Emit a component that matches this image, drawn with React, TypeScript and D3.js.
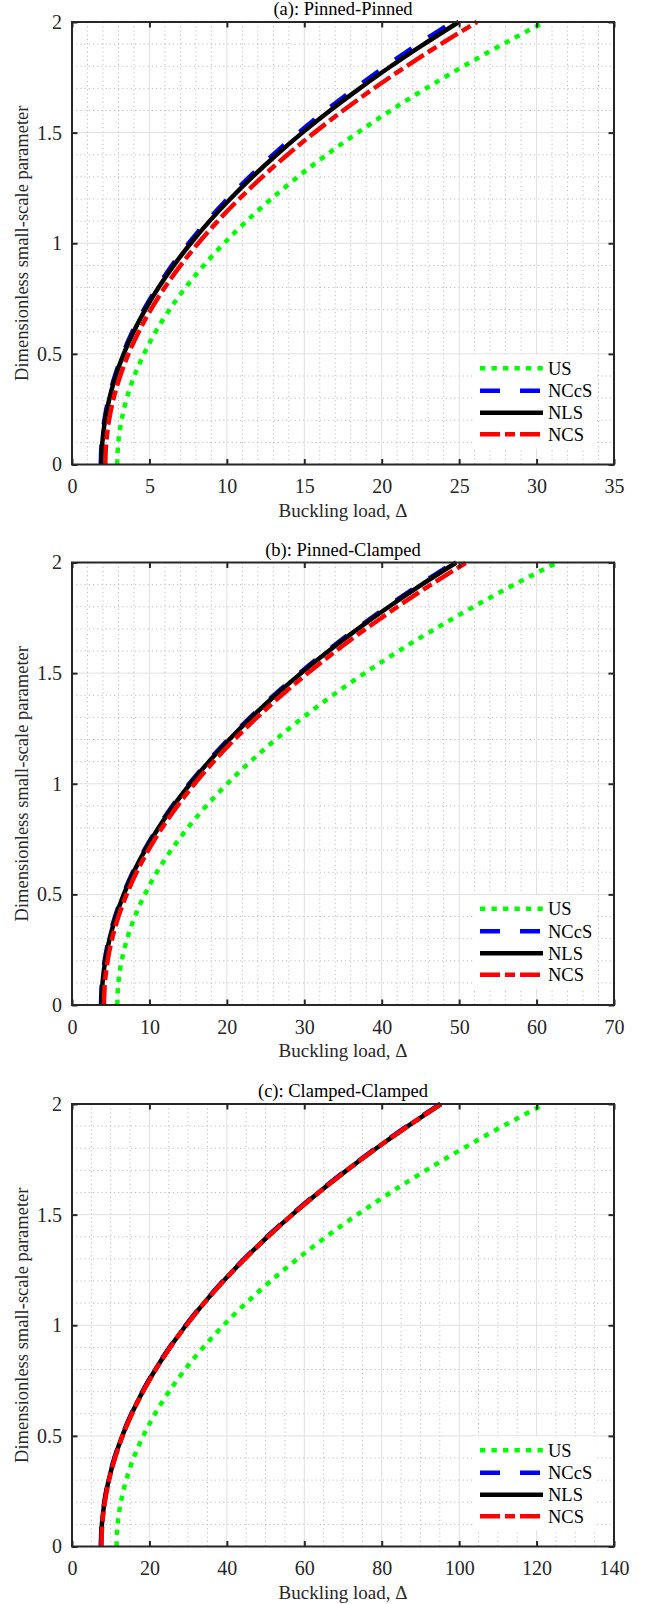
import React, { useEffect, useRef } from 'react';
import * as d3 from 'd3';

// dimensionless small-scale parameter (y axis), shared by every curve
const muValues = [0, 0.1, 0.2, 0.3, 0.4, 0.5, 0.6, 0.7, 0.8, 0.9, 1.0, 1.1, 1.2, 1.3, 1.4, 1.5, 1.6, 1.7, 1.8, 1.9, 2.0];

// (a) Pinned-Pinned, buckling load
const ppUS = [2.92, 2.99, 3.2, 3.54, 4.02, 4.65, 5.4, 6.3, 7.34, 8.51, 9.82, 11.27, 12.86, 14.58, 16.44, 18.45, 20.58, 22.86, 25.28, 27.83, 30.52];
const ppNCcS = [1.86, 1.92, 2.09, 2.37, 2.77, 3.28, 3.9, 4.64, 5.5, 6.46, 7.54, 8.73, 10.04, 11.46, 12.99, 14.64, 16.4, 18.28, 20.26, 22.36, 24.58];
const ppNLS = [1.9, 1.96, 2.13, 2.42, 2.82, 3.34, 3.98, 4.73, 5.59, 6.57, 7.67, 8.88, 10.21, 11.65, 13.21, 14.88, 16.67, 18.58, 20.59, 22.73, 24.98];
const ppNCS = [2.15, 2.21, 2.39, 2.69, 3.11, 3.65, 4.31, 5.09, 5.99, 7.01, 8.15, 9.41, 10.79, 12.29, 13.91, 15.65, 17.51, 19.49, 21.59, 23.81, 26.15];

// (b) Pinned-Clamped
const pcUS = [5.85, 5.99, 6.42, 7.13, 8.12, 9.4, 10.96, 12.81, 14.94, 17.35, 20.05, 23.03, 26.3, 29.85, 33.68, 37.8, 42.2, 46.89, 51.86, 57.11, 62.65];
const pcNCcS = [3.75, 3.86, 4.21, 4.78, 5.57, 6.6, 7.85, 9.34, 11.05, 12.98, 15.15, 17.54, 20.17, 23.02, 26.09, 29.4, 32.93, 36.7, 40.69, 44.9, 49.35];
const pcNLS = [3.83, 3.94, 4.29, 4.86, 5.66, 6.69, 7.95, 9.44, 11.16, 13.1, 15.28, 17.68, 20.32, 23.18, 26.27, 29.59, 33.14, 36.92, 40.93, 45.16, 49.63];
const pcNCS = [4.13, 4.25, 4.6, 5.18, 6.0, 7.06, 8.34, 9.86, 11.62, 13.61, 15.83, 18.29, 20.98, 23.9, 27.06, 30.46, 34.08, 37.94, 42.04, 46.37, 50.93];

// (c) Clamped-Clamped
const ccUS = [11.5, 11.78, 12.61, 13.99, 15.92, 18.41, 21.45, 25.05, 29.2, 33.9, 39.15, 44.96, 51.32, 58.23, 65.69, 73.71, 82.28, 91.41, 101.09, 111.32, 122.1];
const ccNCcS = [7.45, 7.67, 8.33, 9.42, 10.95, 12.93, 15.33, 18.18, 21.47, 25.19, 29.35, 33.95, 38.99, 44.46, 50.37, 56.73, 63.51, 70.74, 78.41, 86.51, 95.05];
const ccNLS = [7.5, 7.72, 8.38, 9.48, 11.01, 12.99, 15.4, 18.26, 21.55, 25.28, 29.45, 34.06, 39.11, 44.6, 50.52, 56.89, 63.69, 70.94, 78.62, 86.74, 95.3];
const ccNCS = [7.6, 7.82, 8.48, 9.57, 11.11, 13.08, 15.49, 18.35, 21.64, 25.36, 29.53, 34.14, 39.18, 44.66, 50.58, 56.94, 63.74, 70.98, 78.65, 86.77, 95.32];

const seriesNames = ['US', 'NCcS', 'NLS', 'NCS'];
const panelTitles = ['(a): Pinned-Pinned', '(b): Pinned-Clamped', '(c): Clamped-Clamped'];
const xTicksPP = [0, 5, 10, 15, 20, 25, 30, 35];
const xTicksPC = [0, 10, 20, 30, 40, 50, 60, 70];
const xTicksCC = [0, 20, 40, 60, 80, 100, 120, 140];
const yTicks = [0, 0.5, 1, 1.5, 2];

const W = 646;
const H = 1604;
const FONT = "'Liberation Serif', 'Times New Roman', serif";
const AXIS = '#262626';

const lineStyles = [
  { color: '#00ff00', dash: '5.3,6.2' },
  { color: '#0000ff', dash: '20,20' },
  { color: '#000000', dash: null },
  { color: '#ff0000', dash: '20,5,10,5' },
];

const panels = [
  { top: 22, title: panelTitles[0], xTicks: xTicksPP, minorStep: 1, series: [ppUS, ppNCcS, ppNLS, ppNCS] },
  { top: 562.5, title: panelTitles[1], xTicks: xTicksPC, minorStep: 2, series: [pcUS, pcNCcS, pcNLS, pcNCS] },
  { top: 1104, title: panelTitles[2], xTicks: xTicksCC, minorStep: 5, series: [ccUS, ccNCcS, ccNLS, ccNCS] },
];

function isMultiple(v: number, step: number) {
  const r = v / step;
  return Math.abs(r - Math.round(r)) < 1e-6;
}

function drawPanel(svg: any, p: any) {
  const left = 72, right = 614, height = 442.5;
  const top = p.top;
  const bottom = top + height;
  const xMax = p.xTicks[p.xTicks.length - 1];
  const xStep = p.xTicks[1] - p.xTicks[0];

  const x = d3.scaleLinear().domain([0, xMax]).range([left, right]);
  const y = d3.scaleLinear().domain([0, 2]).range([bottom, top]);

  const g = svg.append('g');

  // minor grid (dotted)
  const xMinor = d3.range(0, xMax + 1e-9, p.minorStep).filter((v) => !isMultiple(v, xStep));
  const yMinor = d3.range(0, 2.0001, 0.1).filter((v) => !isMultiple(v, 0.5));
  g.selectAll('.xminor').data(xMinor).enter().append('line')
    .attr('x1', (d) => x(d)).attr('x2', (d) => x(d))
    .attr('y1', top).attr('y2', bottom)
    .attr('stroke', '#b8b8b8').attr('stroke-width', 0.9).attr('stroke-dasharray', '1.2,3');
  g.selectAll('.yminor').data(yMinor).enter().append('line')
    .attr('x1', left).attr('x2', right)
    .attr('y1', (d) => y(d)).attr('y2', (d) => y(d))
    .attr('stroke', '#b8b8b8').attr('stroke-width', 0.9).attr('stroke-dasharray', '1.2,3');

  // major grid
  g.selectAll('.xmajor').data(p.xTicks).enter().append('line')
    .attr('x1', (d) => x(d)).attr('x2', (d) => x(d))
    .attr('y1', top).attr('y2', bottom)
    .attr('stroke', '#e0e0e0').attr('stroke-width', 1);
  g.selectAll('.ymajor').data(yTicks).enter().append('line')
    .attr('x1', left).attr('x2', right)
    .attr('y1', (d) => y(d)).attr('y2', (d) => y(d))
    .attr('stroke', '#e0e0e0').attr('stroke-width', 1);

  // curves, in legend order so NCS sits on top
  const line = d3.line<number>()
    .x((d) => x(d))
    .y((d, i) => y(muValues[i]))
    .curve(d3.curveMonotoneY);
  p.series.forEach((s: number[], i: number) => {
    g.append('path')
      .attr('d', line(s))
      .attr('fill', 'none')
      .attr('stroke', lineStyles[i].color)
      .attr('stroke-width', 4.5)
      .attr('stroke-dasharray', lineStyles[i].dash)
      .attr('stroke-linecap', 'butt');
  });

  // legend
  const lg = g.append('g');
  lg.append('rect').attr('x', 473).attr('y', bottom - 110).attr('width', 122).attr('height', 94).attr('fill', '#fff');
  const rowY = [96.2, 73.8, 51.8, 30.2];
  seriesNames.forEach((name, i) => {
    const yy = bottom - rowY[i];
    lg.append('line')
      .attr('x1', 480).attr('x2', 543).attr('y1', yy).attr('y2', yy)
      .attr('stroke', lineStyles[i].color).attr('stroke-width', 4.5)
      .attr('stroke-dasharray', lineStyles[i].dash);
    lg.append('text')
      .attr('x', 548).attr('y', yy + 6.5)
      .style('font-family', FONT).style('font-size', '18.5px').attr('fill', '#000')
      .text(name);
  });

  // axes with inward ticks on all four sides
  const styleAxis = (a: any) => {
    a.attr('font-family', null).attr('font-size', null);
    a.select('.domain').remove();
    a.selectAll('line').attr('stroke', AXIS).attr('stroke-width', 2);
    a.selectAll('text')
      .style('font-family', FONT)
      .style('font-size', '20px')
      .attr('fill', AXIS);
  };
  svg.append('g').attr('transform', `translate(0,${bottom})`)
    .call(d3.axisBottom(x).tickValues(p.xTicks).tickSize(-5.5).tickPadding(14.5).tickFormat(d3.format('d')))
    .call(styleAxis);
  svg.append('g').attr('transform', `translate(0,${top})`)
    .call(d3.axisTop(x).tickValues(p.xTicks).tickSize(-5.5).tickFormat(() => ''))
    .call(styleAxis);
  svg.append('g').attr('transform', `translate(${left},0)`)
    .call(d3.axisLeft(y).tickValues(yTicks).tickSize(-5.5).tickPadding(10).tickFormat((d: any) => String(d)))
    .call(styleAxis);
  svg.append('g').attr('transform', `translate(${right},0)`)
    .call(d3.axisRight(y).tickValues(yTicks).tickSize(-5.5).tickFormat(() => ''))
    .call(styleAxis);

  svg.append('rect')
    .attr('x', left).attr('y', top).attr('width', right - left).attr('height', height)
    .attr('fill', 'none').attr('stroke', AXIS).attr('stroke-width', 2);

  // title and axis labels
  const cx = (left + right) / 2;
  svg.append('text')
    .attr('x', cx).attr('y', top - 7).attr('text-anchor', 'middle')
    .style('font-family', FONT).style('font-size', '18.5px').attr('fill', '#000')
    .text(p.title);
  svg.append('text')
    .attr('x', cx).attr('y', bottom + 52).attr('text-anchor', 'middle')
    .style('font-family', FONT).style('font-size', '19px').attr('fill', AXIS)
    .text('Buckling load, \u0394');
  svg.append('text')
    .attr('transform', `translate(27.5,${(top + bottom) / 2}) rotate(-90)`)
    .attr('text-anchor', 'middle')
    .style('font-family', FONT).style('font-size', '18.5px').attr('fill', AXIS)
    .text('Dimensionless small-scale parameter');
}

export default function App() {
  const ref = useRef<SVGSVGElement | null>(null);

  useEffect(() => {
    const svg = d3.select(ref.current);
    svg.selectAll('*').remove();
    svg.append('rect').attr('width', W).attr('height', H).attr('fill', '#fff');
    panels.forEach((p) => drawPanel(svg, p));
  }, []);

  return (
    <svg
      ref={ref}
      width={W}
      height={H}
      style={{ position: 'absolute', left: 0, top: 0, display: 'block' }}
    />
  );
}
